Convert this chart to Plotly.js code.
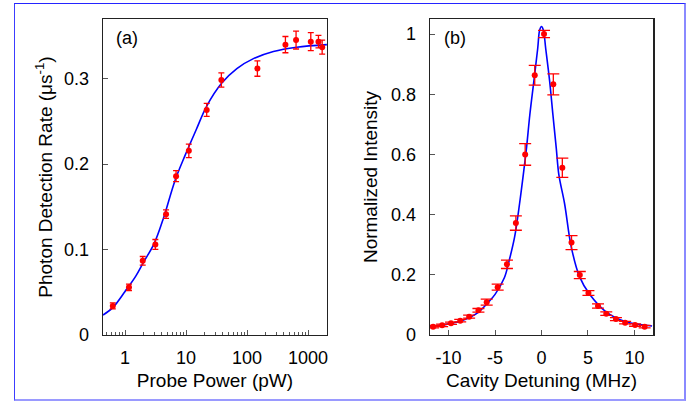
<!DOCTYPE html>
<html>
<head>
<meta charset="utf-8">
<script src="https://cdn.plot.ly/plotly-3.0.1.min.js"></script>
<style>
  html, body { margin: 0; padding: 0; background: #fff; }
  #wrap { position: relative; width: 699px; height: 401px; }
  #chart { position: absolute; left: 0; top: 0; width: 699px; height: 401px; }
  #frame { position: absolute; left: 14px; top: 3px; width: 672px; height: 398px; box-sizing: border-box;
           border-top: 1px solid #2424ff; border-left: 1px solid #3c3cff;
           border-right: 2px solid #8a8aff; border-bottom: 2px solid #9a9aff; pointer-events: none; }
</style>
</head>
<body>
<div id="wrap"><div id="chart"></div><div id="frame"></div></div>
<script>
// ---- Panel (a): photon detection rate vs probe power ----
const powerA = [0.63, 1.16, 1.95, 3.14, 4.7, 6.86, 11.1, 21.8, 37.9, 147.6, 425, 635, 1107, 1478, 1700];
const rateA  = [0.034, 0.0558, 0.0869, 0.106, 0.1415, 0.186, 0.2156, 0.2635, 0.2986, 0.312, 0.340, 0.3454, 0.3435, 0.3435, 0.337];
const errA   = [0.0035, 0.0037, 0.005, 0.0058, 0.005, 0.0064, 0.008, 0.0076, 0.0084, 0.009, 0.0095, 0.0105, 0.0105, 0.0074, 0.0082];
const fitPowerA = [0.436, 0.63, 1, 1.5, 2, 3, 4.25, 6.6, 9.6, 14.6, 21.8, 38.5, 68, 127, 270, 650, 2030];
const fitRateA  = [0.0234, 0.032, 0.051, 0.069, 0.085, 0.107, 0.1365, 0.181, 0.210, 0.240, 0.268, 0.295, 0.312, 0.3236, 0.332, 0.337, 0.340];
const tickValsA = [1, 10, 100, 1000];
const tickTextA = ["1", "10", "100", "1000"];
const minorValsA = [0.5, 0.6, 0.7, 0.8, 0.9, 2, 3, 4, 5, 6, 7, 8, 9, 20, 30, 40, 50, 60, 70, 80, 90,
                    200, 300, 400, 500, 600, 700, 800, 900];

// ---- Panel (b): normalized intensity vs cavity detuning ----
const detuneB = [-11.67, -10.7, -9.74, -8.75, -7.79, -6.79, -5.9, -4.72, -3.72, -2.76, -1.76, -0.73, 0.27,
                 1.27, 2.24, 3.23, 4.12, 5.05, 6.08, 6.97, 8.01, 9.0, 10.07, 11.1];
const intensB = [0.0277, 0.032, 0.039, 0.0476, 0.061, 0.082, 0.109, 0.159, 0.235, 0.372, 0.600, 0.863, 1.0,
                 0.833, 0.556, 0.307, 0.199, 0.1395, 0.0963, 0.071, 0.053, 0.041, 0.033, 0.0277];
const errB    = [0.004, 0.004, 0.004, 0.004, 0.005, 0.006, 0.010, 0.010, 0.014, 0.024, 0.036, 0.033, 0.012,
                 0.035, 0.032, 0.023, 0.012, 0.008, 0.007, 0.006, 0.005, 0.004, 0.004, 0.004];
const fitDetuneB = [-12, -11, -10, -8.6, -7, -5.75, -5, -4, -3.5, -2.9, -2.36, -1.9, -1.62, -1.26, -0.83, -0.41, -0.2, 0,
                    0.2, 0.45, 0.88, 1.23, 1.59, 1.87, 2.48, 3.2, 4.09, 5.16, 6.94, 9.08, 11.9];
const fitIntensB = [0.028, 0.032, 0.037, 0.0475, 0.071, 0.108, 0.135, 0.19, 0.245, 0.325, 0.437, 0.548, 0.62, 0.731, 0.842, 0.952, 1.013, 1.025,
                    1.013, 0.952, 0.842, 0.731, 0.62, 0.532, 0.437, 0.293, 0.194, 0.136, 0.077, 0.044, 0.030];
const tickValsB = [-10, -5, 0, 5, 10];
const tickTextB = ["-10", "-5", "0", "5", "10"];

const FONT = "Liberation Sans, Arial, Helvetica, sans-serif";
const tickFont = {family: FONT, size: 18, color: "#000"};
const titleFont = {family: FONT, size: 19, color: "#000"};

const traces = [
  {x: fitPowerA, y: fitRateA, xaxis: "x", yaxis: "y", mode: "lines",
   line: {color: "#0000ff", width: 1.6, shape: "spline", smoothing: 1}, hoverinfo: "skip", showlegend: false},
  {x: powerA, y: rateA, xaxis: "x", yaxis: "y", mode: "markers",
   marker: {color: "#ff0000", size: 6},
   error_y: {type: "data", array: errA, visible: true, color: "#ff0000", thickness: 1.3, width: 3},
   showlegend: false},
  {x: fitDetuneB, y: fitIntensB, xaxis: "x2", yaxis: "y2", mode: "lines",
   line: {color: "#0000ff", width: 1.6, shape: "spline", smoothing: 1}, hoverinfo: "skip", showlegend: false},
  {x: detuneB, y: intensB, xaxis: "x2", yaxis: "y2", mode: "markers",
   marker: {color: "#ff0000", size: 6},
   error_y: {type: "data", array: errB, visible: true, color: "#ff0000", thickness: 1.3, width: 6},
   showlegend: false}
];

const axBase = {
  showgrid: false, zeroline: false, showline: true, mirror: true,
  linecolor: "#222", linewidth: 1.5, ticks: "inside", ticklen: 5, tickwidth: 1, tickcolor: "#555",
  tickfont: tickFont
};

const layout = {
  width: 699, height: 401,
  margin: {l: 0, r: 0, t: 0, b: 0},
  paper_bgcolor: "#fff", plot_bgcolor: "#fff",
  showlegend: false,
  xaxis: Object.assign({}, axBase, {
    domain: [0.1474, 0.4678], anchor: "y", type: "log",
    range: [Math.log10(0.436), Math.log10(2040)],
    tickmode: "array", tickvals: tickValsA, ticktext: tickTextA,
    minor: {tickmode: "array", tickvals: minorValsA, ticks: "inside", ticklen: 3, tickcolor: "#555", tickwidth: 1, showgrid: false},
    ticklabelstandoff: 6,
    title: {text: "Probe Power (pW)", font: titleFont, standoff: 6}
  }),
  yaxis: Object.assign({}, axBase, {
    domain: [0.1646, 0.9526], anchor: "x",
    range: [0, 0.37], tickmode: "array", tickvals: [0, 0.1, 0.2, 0.3], ticktext: ["0", "0.1", "0.2", "0.3"],
    ticklabelstandoff: 9,
    title: {text: "Photon Detection Rate (μs<sup>-1</sup>)", font: titleFont, standoff: 6}
  }),
  xaxis2: Object.assign({}, axBase, {
    domain: [0.6152, 0.9342], anchor: "y2",
    range: [-12, 12], tickmode: "array", tickvals: tickValsB, ticktext: tickTextB,
    ticklabelstandoff: 6,
    title: {text: "Cavity Detuning (MHz)", font: titleFont, standoff: 6}
  }),
  yaxis2: Object.assign({}, axBase, {
    domain: [0.1646, 0.9526], anchor: "x2",
    range: [0, 1.05], tickmode: "array", tickvals: [0, 0.2, 0.4, 0.6, 0.8, 1], ticktext: ["0", "0.2", "0.4", "0.6", "0.8", "1"],
    ticklabelstandoff: 9,
    title: {text: "Normalized Intensity", font: titleFont, standoff: 8}
  }),
  annotations: [
    {text: "(a)", xref: "x domain", yref: "y domain", x: 0.05, y: 0.94, xanchor: "left", yanchor: "middle",
     showarrow: false, font: {family: FONT, size: 18, color: "#000"}},
    {text: "(b)", xref: "x2 domain", yref: "y2 domain", x: 0.055, y: 0.94, xanchor: "left", yanchor: "middle",
     showarrow: false, font: {family: FONT, size: 18, color: "#000"}}
  ]
};

Plotly.newPlot("chart", traces, layout, {staticPlot: true, displayModeBar: false});
</script>
</body>
</html>
